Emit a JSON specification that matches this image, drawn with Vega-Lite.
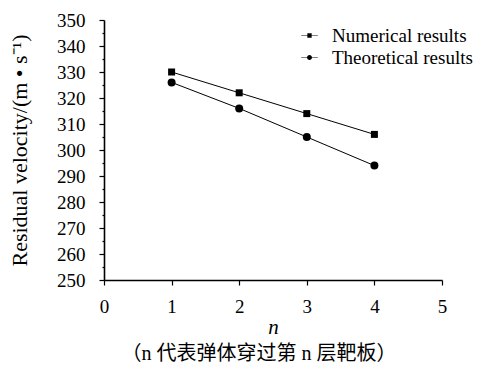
{
  "$schema": "https://vega.github.io/schema/vega-lite/v6.json",
  "width": 338,
  "height": 260,
  "autosize": {"type": "none"},
  "padding": {"left": 104, "top": 20, "right": 35, "bottom": 90},
  "background": "white",
  "title": {
    "text": "（n 代表弹体穿过第 n 层靶板）",
    "orient": "bottom",
    "font": "Times New Roman, Liberation Serif, Noto Sans CJK SC",
    "fontSize": 20,
    "fontWeight": "normal",
    "color": "black",
    "offset": 7,
    "dx": -14
  },
  "data": {
    "values": [
      {"n": 1, "v": 330, "series": "Numerical results"},
      {"n": 2, "v": 322, "series": "Numerical results"},
      {"n": 3, "v": 314, "series": "Numerical results"},
      {"n": 4, "v": 306, "series": "Numerical results"},
      {"n": 1, "v": 326, "series": "Theoretical results"},
      {"n": 2, "v": 316, "series": "Theoretical results"},
      {"n": 3, "v": 305, "series": "Theoretical results"},
      {"n": 4, "v": 294, "series": "Theoretical results"}
    ]
  },
  "encoding": {
    "x": {
      "field": "n",
      "type": "quantitative",
      "scale": {"domain": [0, 5], "nice": false, "zero": false},
      "axis": {
        "title": "n",
        "titleFontStyle": "italic",
        "titleFont": "Times New Roman, Liberation Serif, serif",
        "titleFontSize": 21,
        "titleFontWeight": "normal",
        "titleColor": "black",
        "titlePadding": 0,
        "values": [0, 0.5, 1, 1.5, 2, 2.5, 3, 3.5, 4, 4.5, 5],
        "format": "d",
        "labelExpr": "datum.value % 1 === 0 ? datum.label : ''",
        "labelFont": "Times New Roman, Liberation Serif, serif",
        "labelFontSize": 19,
        "labelColor": "black",
        "labelPadding": 12,
        "labelFlush": false,
        "labelOverlap": false,
        "tickSize": {"condition": {"test": "datum.value % 1 === 0", "value": 5}, "value": 2},
        "tickColor": "black",
        "tickWidth": 1.2,
        "domainColor": "black",
        "domainWidth": 1.6,
        "grid": false
      }
    },
    "y": {
      "field": "v",
      "type": "quantitative",
      "scale": {"domain": [250, 350], "nice": false, "zero": false},
      "axis": {
        "title": "Residual velocity/(m • s⁻¹)",
        "titleFont": "Times New Roman, Liberation Serif, serif",
        "titleFontSize": 22,
        "titleFontWeight": "normal",
        "titleColor": "black",
        "titlePadding": 25,
        "values": [250, 255, 260, 265, 270, 275, 280, 285, 290, 295, 300, 305, 310, 315, 320, 325, 330, 335, 340, 345, 350],
        "labelExpr": "datum.value % 10 === 0 ? datum.label : ''",
        "labelFont": "Times New Roman, Liberation Serif, serif",
        "labelFontSize": 19,
        "labelColor": "black",
        "labelPadding": 14,
        "labelFlush": false,
        "labelOverlap": false,
        "tickSize": {"condition": {"test": "datum.value % 10 === 0", "value": 5}, "value": 2},
        "tickColor": "black",
        "tickWidth": 1.2,
        "domainColor": "black",
        "domainWidth": 1.6,
        "grid": false
      }
    }
  },
  "layer": [
    {
      "mark": {"type": "line", "color": "black", "strokeWidth": 1},
      "encoding": {"detail": {"field": "series"}}
    },
    {
      "mark": {"type": "point", "filled": true, "color": "black", "opacity": 1},
      "encoding": {
        "shape": {
          "field": "series",
          "type": "nominal",
          "scale": {"domain": ["Numerical results", "Theoretical results"], "range": ["square", "circle"]},
          "legend": null
        },
        "size": {
          "condition": {"test": "datum.series === 'Theoretical results'", "value": 64},
          "value": 49
        }
      }
    },
    {
      "transform": [{"filter": "false"}],
      "mark": {"type": "point", "filled": true, "color": "black", "size": 81, "opacity": 1},
      "encoding": {
        "shape": {
          "field": "series",
          "type": "nominal",
          "scale": {
            "domain": ["Numerical results", "Theoretical results"],
            "range": [
              "M-1.84,-0.07H-0.48V-0.48H0.48V-0.07H1.84V0.07H0.48V0.48H-0.48V0.07H-1.84Z",
              "M-1.84,-0.07H1.84V0.07H-1.84Z M-0.55,0A0.55,0.55 0 1,1 0.55,0A0.55,0.55 0 1,1 -0.55,0Z"
            ]
          },
          "legend": {
            "orient": "none",
            "legendX": 196,
            "legendY": 6,
            "title": null,
            "labelFont": "Times New Roman, Liberation Serif, serif",
            "labelFontSize": 19,
            "labelColor": "black",
            "symbolSize": 81,
            "symbolFillColor": "black",
            "labelOffset": 13,
            "rowPadding": 2
          }
        }
      }
    }
  ],
  "resolve": {"scale": {"shape": "independent"}},
  "config": {
    "view": {"stroke": null},
    "axis": {"labelFont": "Times New Roman, Liberation Serif, serif", "titleFont": "Times New Roman, Liberation Serif, serif"},
    "legend": {"labelFont": "Times New Roman, Liberation Serif, serif"}
  }
}
